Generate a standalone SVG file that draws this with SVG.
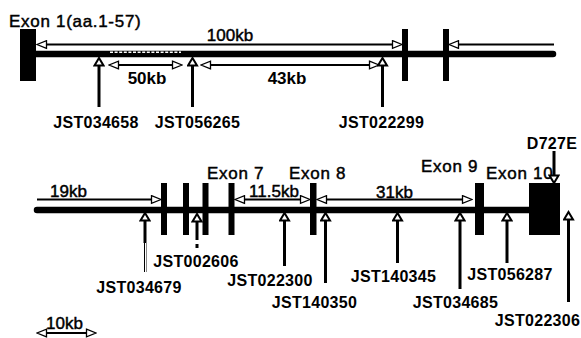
<svg xmlns="http://www.w3.org/2000/svg" width="581" height="338" viewBox="0 0 581 338">
<style>
text{font-family:"Liberation Sans",Arial,sans-serif;fill:#000}
.ex{font-size:17px;letter-spacing:0.7px;stroke:#000;stroke-width:0.45px}
.kb{font-size:17px;text-anchor:middle;stroke:#000;stroke-width:0.45px}
.kbb{font-size:17px;font-weight:bold;text-anchor:middle}
.jst{font-size:16px;font-weight:bold;letter-spacing:0.3px;text-anchor:middle}
.gene{stroke:#000;stroke-width:6.5;stroke-linecap:round;fill:none}
.dim{stroke:#000;stroke-width:2;fill:none;marker-start:url(#d);marker-end:url(#d)}
.dim1{stroke:#000;stroke-width:2;fill:none;marker-end:url(#d)}
.snp{stroke:#000;stroke-width:3;fill:none;marker-end:url(#s)}
.exon{fill:#000}
</style>
<defs>
<marker id="d" viewBox="0 0 12 10" refX="2" refY="5" markerWidth="12" markerHeight="10" markerUnits="userSpaceOnUse" orient="auto-start-reverse">
<path d="M1.5,1.2 L11,5 L1.5,8.8 Z" fill="#fff" stroke="#000" stroke-width="1.3"/>
</marker>
<marker id="s" viewBox="0 0 12 12" refX="2" refY="6" markerWidth="12" markerHeight="12" markerUnits="userSpaceOnUse" orient="auto">
<path d="M1.5,1.5 L9,6 L1.5,10.5 Z" fill="#fff" stroke="#000" stroke-width="2"/>
</marker>
</defs>
<rect width="581" height="338" fill="#fff"/>

<g id="gene-top">
<line class="gene" x1="36" y1="54" x2="553" y2="54"/>
<line x1="110" y1="52.3" x2="181" y2="52.3" stroke="#fff" stroke-width="1.6" stroke-dasharray="3,1.6"/>
</g>
<g id="gene-bottom">
<line class="gene" x1="37" y1="210" x2="530" y2="210"/>
</g>

<g id="exon1"><rect class="exon" x="20" y="29" width="16" height="52"/><text class="ex" x="9" y="27">Exon 1(aa.1-57)</text></g>
<g id="exon2"><rect class="exon" x="402" y="29" width="6" height="52"/></g>
<g id="exon3"><rect class="exon" x="443" y="29" width="6" height="52"/></g>
<g id="exon4"><rect class="exon" x="161" y="183" width="6" height="52"/></g>
<g id="exon5"><rect class="exon" x="183" y="183" width="6" height="52"/></g>
<g id="exon6"><rect class="exon" x="202.5" y="183" width="6" height="52"/></g>
<g id="exon7"><rect class="exon" x="228.5" y="183" width="6" height="52"/><text class="ex" x="207" y="179">Exon 7</text></g>
<g id="exon8"><rect class="exon" x="310" y="183" width="6.5" height="52"/><text class="ex" x="289" y="179">Exon 8</text></g>
<g id="exon9"><rect class="exon" x="475" y="183" width="9" height="52"/><text class="ex" x="421" y="172">Exon 9</text></g>
<g id="exon10"><rect class="exon" x="529" y="183" width="31" height="52"/><text class="ex" x="486" y="179">Exon 10</text></g>

<g id="connectors">
<line class="dim" x1="46" y1="44.5" x2="393" y2="44.5"/>
<line class="dim1" x1="554" y1="44.5" x2="458" y2="44.5"/>
<line class="dim" x1="118" y1="65" x2="173" y2="65"/>
<line class="dim" x1="210" y1="65" x2="370" y2="65"/>
<line class="dim1" x1="37" y1="199.5" x2="152" y2="199.5"/>
<line class="dim" x1="244" y1="199.5" x2="301" y2="199.5"/>
<line class="dim" x1="326" y1="199.5" x2="463" y2="199.5"/>
<line class="dim" x1="46" y1="333" x2="87" y2="333"/>

<line class="snp" x1="99" y1="107" x2="99" y2="65"/>
<line class="snp" x1="192.5" y1="107" x2="192.5" y2="65"/>
<line class="snp" x1="382.5" y1="107" x2="382.5" y2="65"/>

<line class="snp" x1="145" y1="243" x2="145" y2="220"/>
<line x1="144.5" y1="242" x2="144.5" y2="272" stroke="#000" stroke-width="1"/>
<line x1="146.5" y1="242" x2="146.5" y2="272" stroke="#888" stroke-width="1"/>
<line class="snp" x1="197" y1="240" x2="197" y2="221"/>
<rect x="195.5" y="244" width="3" height="4" fill="#000"/>
<line class="snp" x1="284.5" y1="266" x2="284.5" y2="220"/>
<line class="snp" x1="325.5" y1="283" x2="325.5" y2="220"/>
<line class="snp" x1="397.5" y1="263" x2="397.5" y2="220"/>
<line class="snp" x1="460" y1="289" x2="460" y2="220"/>
<line class="snp" x1="507" y1="263" x2="507" y2="220"/>
<line class="snp" x1="568.5" y1="302" x2="568.5" y2="219"/>
<line class="snp" x1="554" y1="151" x2="554" y2="176"/>
</g>

<g id="labels-kb">
<text class="kb" x="230" y="41">100kb</text>
<text class="kbb" x="147" y="84">50kb</text>
<text class="kbb" x="287" y="84">43kb</text>
<text class="kb" x="68.5" y="197">19kb</text>
<text class="kb" x="274" y="197">11.5kb</text>
<text class="kb" x="394.5" y="198">31kb</text>
<text class="kb" x="64.5" y="329">10kb</text>
</g>

<g id="snp-JST034658"><text class="jst" x="96" y="127.5">JST034658</text></g>
<g id="snp-JST056265"><text class="jst" x="197.5" y="127.5">JST056265</text></g>
<g id="snp-JST022299"><text class="jst" x="381.5" y="127.5">JST022299</text></g>
<g id="snp-JST034679"><text class="jst" x="139" y="292.5">JST034679</text></g>
<g id="snp-JST002606"><text class="jst" x="196" y="266.5">JST002606</text></g>
<g id="snp-JST022300"><text class="jst" x="270" y="285.5">JST022300</text></g>
<g id="snp-JST140350"><text class="jst" x="314.5" y="308">JST140350</text></g>
<g id="snp-JST140345"><text class="jst" x="393.5" y="281.5">JST140345</text></g>
<g id="snp-JST034685"><text class="jst" x="455.5" y="308">JST034685</text></g>
<g id="snp-JST056287"><text class="jst" x="510" y="280">JST056287</text></g>
<g id="snp-JST022306"><text class="jst" x="537.5" y="325.5">JST022306</text></g>
<g id="mut-D727E"><text class="jst" x="552" y="149">D727E</text></g>
</svg>
